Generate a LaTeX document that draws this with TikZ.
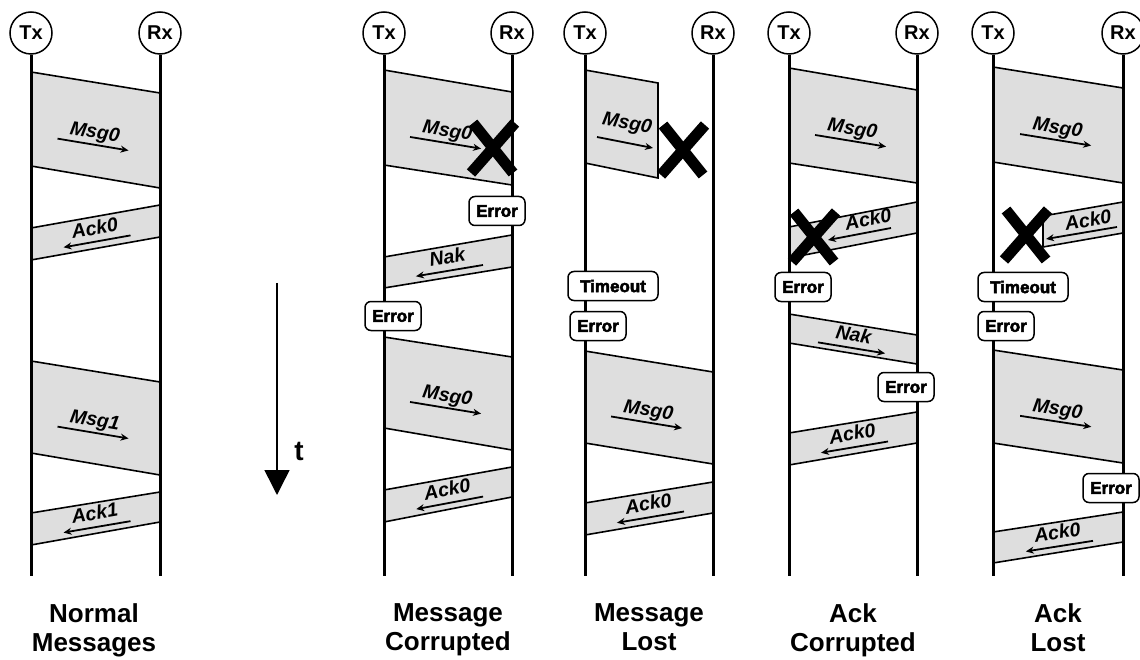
\documentclass[tikz,border=0pt]{standalone}
\usepackage{fontspec}
\setmainfont{Liberation Sans}
\newfontfamily\heavy[UprightFont={* Bold},FakeBold=3]{Liberation Sans}
\usetikzlibrary{arrows.meta}

\tikzset{
  lifeline/.style={line width=3pt},
  actor/.style={circle, draw, line width=1.5pt, minimum size=42pt, inner sep=0pt,
    font=\bfseries\fontsize{20}{20}\selectfont, fill=white},
  bandfill/.style={fill=black!13},
  bandedge/.style={line width=1.6pt},
  lbl/.style={font=\bfseries\itshape\fontsize{19.5}{19.5}\selectfont, inner sep=0pt},
  dirarrow/.style={line width=1.8pt, -{Stealth[length=8pt,width=7pt]}},
  evbox/.style={draw, line width=1.5pt, rounded corners=6pt, fill=white,
    font=\heavy\fontsize{17}{17}\selectfont, minimum height=29pt, inner sep=0pt},
  errbox/.style={evbox, minimum width=56pt},
  tobox/.style={evbox, minimum width=90pt},
  xstroke/.style={line width=11pt},
  caption/.style={font=\bfseries\fontsize{26}{29}\selectfont, align=center, anchor=north, inner sep=0pt},
}

% band between two lifelines: #1 tx x, #2 rx x, #3 top at tx, #4 top at rx, #5 bottom at tx, #6 bottom at rx
\newcommand\band[6]{%
  \path[bandfill] (#1,#3) -- (#2,#4) -- (#2,#6) -- (#1,#5) -- cycle;
  \draw[bandedge] (#1,#3) -- (#2,#4);
  \draw[bandedge] (#1,#5) -- (#2,#6);
  \pgfmathsetmacro\fcx{(#1+#2)/2}%
  \pgfmathsetmacro\fcy{(#3+#4+#5+#6)/4}%
  \pgfmathsetmacro\fang{-atan2((#4-#3)+(#6-#5),2*(#2-#1))}%
}
% label + arrow: #1 name, #2 text, #3 text offset, #4 arrow offset, #5 arrow start, #6 arrow end
\newcommand\flowlbl[6]{%
  \begin{scope}[shift={(\fcx,\fcy)}, rotate=\fang]
    \node[lbl, rotate=\fang] (#1) at (0,#3) {#2};
    \coordinate (#1s) at (#5,#4);
    \coordinate (#1e) at (#6,#4);
  \end{scope}
  \draw[dirarrow] (#1s) -- (#1e);
}
\newcommand\msglbl[2]{\flowlbl{#1}{#2}{4}{15}{-36}{36}}
\newcommand\acklbl[2]{\flowlbl{#1}{#2}{-5}{9}{34}{-34}}
\newcommand\naklbl[2]{\flowlbl{#1}{#2}{-5}{9}{-34}{34}}
% big cross: #1 cx, #2 cy
\newcommand\bigx[2]{%
  \draw[xstroke] (#1-22,#2+25) -- (#1+22,#2-25);
  \draw[xstroke] (#1-20,#2-25) -- (#1+20,#2+25);
}

\begin{document}
\begin{tikzpicture}[x=1pt,y=-1pt]
\useasboundingbox (0,0) rectangle (1140,660);

% actors
\foreach \n/\tx/\rx in {1/31/160, 2/384/512, 3/585/713, 4/789/917, 5/993/1123}{
  \node[actor] (tx\n) at (\tx,33) {Tx};
  \node[actor] (rx\n) at (\rx,33) {Rx};
  \coordinate (tx\n e) at (\tx,576);
  \coordinate (rx\n e) at (\rx,576);
}

% ---------- column 1: normal messages
\band{31}{160}{72}{93}{166}{188}   \msglbl{m11}{Msg0}
\band{31}{160}{228}{205}{260}{237} \acklbl{a11}{Ack0}
\band{31}{160}{361}{382}{453}{475} \msglbl{m12}{Msg1}
\band{31}{160}{513}{492}{545}{522} \acklbl{a12}{Ack1}

% ---------- column 2: message corrupted
\band{384}{512}{70}{92}{165}{185}   \msglbl{m21}{Msg0}
\band{384}{512}{257}{235}{288}{267} \acklbl{n21}{Nak}
\band{384}{512}{337}{357}{428}{450} \msglbl{m22}{Msg0}
\band{384}{512}{490}{467}{522}{497} \acklbl{a21}{Ack0}

% ---------- column 3: message lost
\path[bandfill] (585,70) -- (658,83) -- (658,178) -- (585,163) -- cycle;
\draw[bandedge] (585,70) -- (658,83) -- (658,178) -- (585,163);
\node[lbl, rotate=-10.5] (m31) at (627,124) {Msg0};
\coordinate (m31s) at (597,137);
\coordinate (m31e) at (653,148);
\draw[dirarrow] (m31s) -- (m31e);
\band{585}{713}{351}{372}{443}{464} \msglbl{m32}{Msg0}
\band{585}{713}{503}{482}{535}{513} \acklbl{a31}{Ack0}

% ---------- column 4: ack corrupted
\band{789}{917}{68}{90}{163}{183}   \msglbl{m41}{Msg0}
\band{789}{917}{227}{202}{258}{233}
\node[lbl, rotate=11] (a41) at (868,219) {Ack0};
\coordinate (a41s) at (891,228);
\coordinate (a41e) at (828,240);
\draw[dirarrow] (a41s) -- (a41e);
\band{789}{917}{314}{335}{343}{364} \naklbl{n41}{Nak}
\band{789}{917}{433}{412}{465}{443} \acklbl{a42}{Ack0}

% ---------- column 5: ack lost
\band{993}{1123}{67}{88}{162}{183}   \msglbl{m51}{Msg0}
\path[bandfill] (1043,216) -- (1123,202) -- (1123,233) -- (1043,247) -- cycle;
\draw[bandedge] (1123,202) -- (1043,216) -- (1043,247) -- (1123,233);
\node[lbl, rotate=9.8] (a51) at (1088,220) {Ack0};
\coordinate (a51s) at (1117,227);
\coordinate (a51e) at (1046,239);
\draw[dirarrow] (a51s) -- (a51e);
\band{993}{1123}{350}{370}{443}{463} \msglbl{m52}{Msg0}
\band{993}{1123}{532}{512}{563}{542} \acklbl{a52}{Ack0}

% lifelines
\foreach \n in {1,...,5}{
  \draw[lifeline] (tx\n) -- (tx\n e);
  \draw[lifeline] (rx\n) -- (rx\n e);
}

% event boxes
\node[errbox] (e2r) at (497,211) {Error};
\node[errbox] (e2t) at (393,316) {Error};
\node[tobox]  (t3)  at (613,286) {Timeout};
\node[errbox] (e3t) at (598,326) {Error};
\node[errbox] (e4t) at (803,287) {Error};
\node[errbox] (e4r) at (906,387) {Error};
\node[tobox]  (t5)  at (1023,287) {Timeout};
\node[errbox] (e5t) at (1006,326) {Error};
\node[errbox] (e5r) at (1111,488) {Error};

% crosses
\bigx{493}{148}
\bigx{683}{150}
\bigx{814}{237}
\bigx{1026}{235}

% time axis
\coordinate (t0) at (277,283);
\coordinate (t1) at (277,495);
\draw[line width=1.5pt, -{Triangle[length=25pt,width=25pt]}] (t0) -- (t1);
\node[font=\bfseries\fontsize{28}{28}\selectfont, inner sep=0pt] (tl) at (299,451) {t};

% captions
\node[caption] (c1) at (94,603)   {Normal\\Messages};
\node[caption] (c2) at (448,603)  {Message\\Corrupted};
\node[caption] (c3) at (649,603)  {Message\\Lost};
\node[caption] (c4) at (853,603)  {Ack\\Corrupted};
\node[caption] (c5) at (1058,603) {Ack\\Lost};
\end{tikzpicture}
\end{document}
